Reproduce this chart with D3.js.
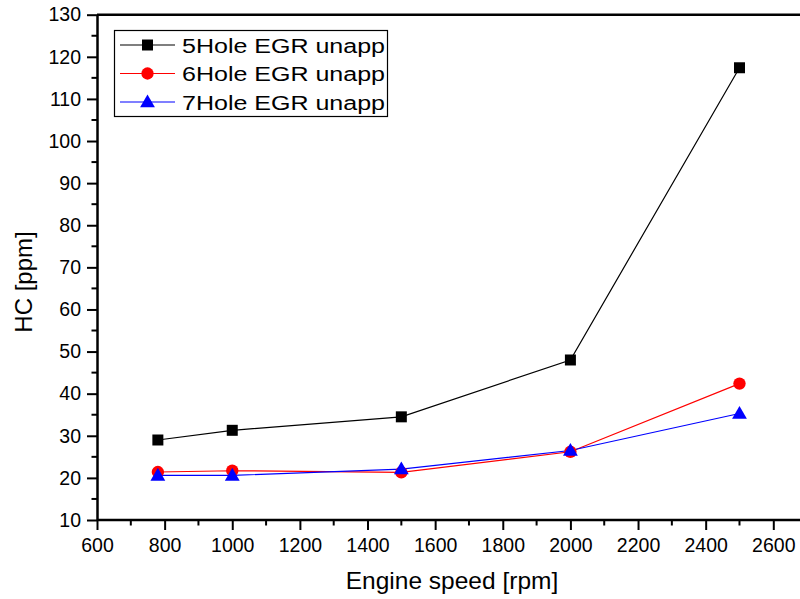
<!DOCTYPE html>
<html><head><meta charset="utf-8">
<script src="https://cdn.jsdelivr.net/npm/d3@7"></script>
<style>html,body{margin:0;padding:0;background:#fff;}svg{display:block;font-family:"Liberation Sans",Arial,sans-serif;}</style>
</head><body>
<svg id="c" width="800" height="599"></svg>
<script>
const speeds = [780, 1000, 1500, 2000, 2500];
const hole5 = [29.0, 31.3, 34.5, 48.0, 117.4];
const hole6 = [21.4, 21.7, 21.3, 26.2, 42.4];
const hole7 = [20.6, 20.6, 22.1, 26.5, 35.3];
const seriesNames = ["5Hole EGR unapp", "6Hole EGR unapp", "7Hole EGR unapp"];
const seriesColors = ["#000000", "#ff0000", "#0000ff"];
const seriesSymbols = ["square", "circle", "triangle"];
const xTicks = [600, 800, 1000, 1200, 1400, 1600, 1800, 2000, 2200, 2400, 2600];
const yTicks = [10, 20, 30, 40, 50, 60, 70, 80, 90, 100, 110, 120, 130];

const svg = d3.select("#c");
const mLeft = 97, mTop = 14.7, mBottom = 520;
const x = d3.scaleLinear().domain([600, 2600]).range([mLeft, 773.3]);
const y = d3.scaleLinear().domain([10, 130]).range([mBottom, mTop]);

// frame line at top (continues past the image edge)
svg.append("line").attr("x1", mLeft).attr("x2", 801).attr("y1", mTop).attr("y2", mTop)
  .attr("stroke", "#000").attr("stroke-width", 2.5);

// minor ticks
const xMinor = d3.range(700, 2800, 200);
const yMinor = d3.range(15, 130, 10);
svg.append("g").selectAll("line").data(xMinor).join("line")
  .attr("x1", d => x(d)).attr("x2", d => x(d)).attr("y1", mBottom).attr("y2", mBottom + 5.5)
  .attr("stroke", "#000").attr("stroke-width", 2);
svg.append("g").selectAll("line").data(yMinor).join("line")
  .attr("y1", d => y(d)).attr("y2", d => y(d)).attr("x1", mLeft).attr("x2", mLeft - 5.5)
  .attr("stroke", "#000").attr("stroke-width", 2);

const xAxis = svg.append("g").attr("transform", `translate(0,${mBottom})`)
  .call(d3.axisBottom(x).tickValues(xTicks).tickSize(10).tickSizeOuter(0).tickPadding(8).tickFormat(d3.format("d")));
xAxis.select(".domain").attr("d", `M${mLeft},0H801`);
const yAxis = svg.append("g").attr("transform", `translate(${mLeft},0)`)
  .call(d3.axisLeft(y).tickValues(yTicks).tickSize(10).tickSizeOuter(0).tickPadding(6).tickFormat(d3.format("d")));
[xAxis, yAxis].forEach(a => {
  a.select(".domain").attr("stroke-width", 2.5);
  a.selectAll(".tick line").attr("stroke-width", 2);
  a.selectAll("text").attr("font-size", 19.5).attr("fill", "#000")
    .attr("font-family", "'Liberation Sans',Arial,sans-serif");
});

svg.append("text").attr("x", 452).attr("y", 589).attr("text-anchor", "middle")
  .attr("font-size", 24.5).text("Engine speed [rpm]");
svg.append("text").attr("transform", "translate(32,282) rotate(-90)").attr("text-anchor", "middle")
  .attr("font-size", 24).text("HC [ppm]");

const data = [hole5, hole6, hole7];
const symType = {square: d3.symbolSquare, circle: d3.symbolCircle, triangle: d3.symbolTriangle};
const symSize = {square: 121, circle: 120, triangle: 95};
const line = d3.line().x((d, i) => x(speeds[i])).y(d => y(d));
data.forEach((vals, k) => {
  svg.append("path").attr("d", line(vals)).attr("fill", "none")
    .attr("stroke", seriesColors[k]).attr("stroke-width", 1.2);
});
data.forEach((vals, k) => {
  const s = seriesSymbols[k];
  svg.append("g").selectAll("path").data(vals).join("path")
    .attr("transform", (d, i) => `translate(${x(speeds[i])},${y(d) + (s === "triangle" ? 1 : 0)})`)
    .attr("d", d3.symbol(symType[s], symSize[s]))
    .attr("fill", seriesColors[k]);
});

// legend
const lg = svg.append("g");
lg.append("rect").attr("x", 114.5).attr("y", 30.5).attr("width", 273).attr("height", 86)
  .attr("fill", "#fff").attr("stroke", "#000").attr("stroke-width", 1.2);
seriesNames.forEach((name, k) => {
  const cy = 45 + k * 28.5;
  lg.append("line").attr("x1", 120).attr("x2", 175).attr("y1", cy).attr("y2", cy)
    .attr("stroke", seriesColors[k]).attr("stroke-width", 1.2);
  const s = seriesSymbols[k];
  lg.append("path").attr("transform", `translate(147.5,${cy + (s === "triangle" ? 1 : 0)})`)
    .attr("d", d3.symbol(symType[s], symSize[s])).attr("fill", seriesColors[k]);
  lg.append("text").attr("x", 182).attr("y", cy + 7.5).attr("font-size", 20)
    .attr("textLength", 203).attr("lengthAdjust", "spacingAndGlyphs").text(name);
});
</script>
</body></html>
